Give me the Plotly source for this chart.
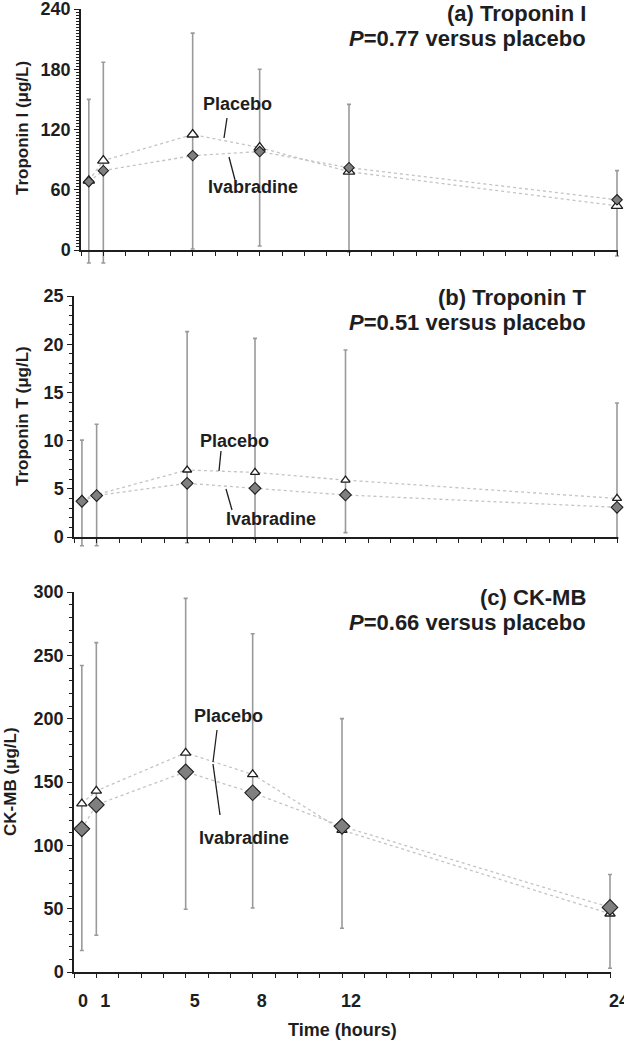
import plotly.graph_objects as go

W, H = 624, 1041

# time points (baseline drawn just right of the y axis, as in the original)
hours = [0.35, 1, 5, 8, 12, 24]
tick_hours = [0, 1, 5, 8, 12, 24]

# (a) Troponin I
tni_placebo = [69, 89, 115, 102, 78, 44]
tni_ivabradine = [68, 79, 94, 98, 82, 50]
tni_bar_top = [150, 187, 216, 180, 145, 79]
tni_bar_bottom = [-13, -13, 1, 4, -2, -6]

# (b) Troponin T
tnt_placebo = [3.9, 4.4, 6.95, 6.7, 5.9, 4.0]
tnt_ivabradine = [3.7, 4.3, 5.57, 5.05, 4.36, 3.08]
tnt_bar_top = [10.05, 11.7, 21.3, 20.6, 19.4, 13.9]
tnt_bar_bottom = [-0.9, -0.9, -0.6, -0.2, 0.45, -0.1]

# (c) CK-MB
ckmb_placebo = [133, 143, 173, 156, 112, 46]
ckmb_ivabradine = [113, 132, 158, 141.5, 115, 51]
ckmb_bar_top = [242, 260, 295, 267, 200, 77]
ckmb_bar_bottom = [17, 29, 49.5, 50.5, 34.5, 3]

FONT = "Liberation Sans, Arial, sans-serif"
DARK = "#1e1e1e"
GREY_BAR = "#9a9a9a"
GREY_LINE = "#c4c4c4"
XMAX = 24.03  # a hair past 24 so the last points are not dropped
EXT = 20      # px the error bars may run past the axes


def fx(p):
    return p / W


def fy(p):
    return 1 - p / H


def label(text, x, y, size, **kw):
    opts = dict(text="<b>" + text + "</b>", xref="paper", yref="paper",
                x=fx(x), y=fy(y), xanchor="center", yanchor="middle", showarrow=False,
                font=dict(family=FONT, size=size, color=DARK))
    opts.update(kw)
    return opts


panels = [
    dict(pl=tni_placebo, iv=tni_ivabradine, top=tni_bar_top, bot=tni_bar_bottom,
         xl=81, xr=617, yt=9, yb=250, yrange=[0, 240], dtick=60, minor=3,
         tri=10, dia=8, ytitle="Troponin I (μg/L)", ytx=22, yty=128,
         title="(a) Troponin I", pval="<i>P</i>=0.77 versus placebo", ty=13,
         plab=(237, 104), pline=(227, 118, 224, 138),
         ilab=(253, 187), iline=(229, 157, 235, 180)),
    dict(pl=tnt_placebo, iv=tnt_ivabradine, top=tnt_bar_top, bot=tnt_bar_bottom,
         xl=74, xr=617, yt=296, yb=537, yrange=[0, 25], dtick=5, minor=1,
         tri=8, dia=9, ytitle="Troponin T (μg/L)", ytx=22, yty=416,
         title="(b) Troponin T", pval="<i>P</i>=0.51 versus placebo", ty=297,
         plab=(234, 441), pline=(221, 451, 219, 471),
         ilab=(271, 519), iline=(226, 489, 232, 510)),
    dict(pl=ckmb_placebo, iv=ckmb_ivabradine, top=ckmb_bar_top, bot=ckmb_bar_bottom,
         xl=74, xr=610, yt=592, yb=972, yrange=[0, 300], dtick=50, minor=10,
         tri=9, dia=12, ytitle="CK-MB (μg/L)", ytx=10, yty=782,
         title="(c) CK-MB", pval="<i>P</i>=0.66 versus placebo", ty=597,
         plab=(228, 716), pline=(217, 730, 213, 762),
         ilab=(244, 838), iline=(213, 764, 220, 815)),
]

fig = go.Figure()
annotations = []
shapes = []
tickfont = dict(family=FONT, size=18, color=DARK, weight="bold")
hidden = dict(showline=False, showticklabels=False, ticks="", showgrid=False,
              zeroline=False, automargin=False)

for i, p in enumerate(panels):
    # error bars go on the lower-numbered (hidden, enlarged) subplot so the
    # markers of the visible subplot are drawn over them
    e = "" if i == 0 else str(i + 1)
    v = str(i + 4)
    xe, ye = "x" + e, "y" + e
    xa, ya = "x" + v, "y" + v

    hr_px = (p["xr"] - p["xl"]) / 24
    right_px = p["xl"] + hr_px * XMAX
    ext_r = min(EXT, W - right_px - 0.5)
    xdom = [fx(p["xl"]), fx(right_px)]
    ydom = [fy(p["yb"]), fy(p["yt"])]
    per_px = (p["yrange"][1] - p["yrange"][0]) / (p["yb"] - p["yt"])

    mid = [(t + b) / 2 for t, b in zip(p["top"], p["bot"])]
    half = [(t - b) / 2 for t, b in zip(p["top"], p["bot"])]

    fig.add_trace(go.Scatter(
        x=hours, y=mid, mode="markers", xaxis=xe, yaxis=ye,
        marker=dict(size=1, opacity=0), showlegend=False, hoverinfo="skip",
        error_y=dict(type="data", array=half, symmetric=True, color=GREY_BAR,
                     thickness=1.6, width=2)))
    # dotted connecting lines
    for vals in (p["pl"], p["iv"]):
        fig.add_trace(go.Scatter(
            x=hours, y=vals, mode="lines", xaxis=xa, yaxis=ya, showlegend=False,
            line=dict(color=GREY_LINE, width=1.3, dash="dot")))
    # placebo: open triangles
    fig.add_trace(go.Scatter(
        x=hours, y=p["pl"], mode="markers", xaxis=xa, yaxis=ya, showlegend=False,
        cliponaxis=False,
        marker=dict(symbol="triangle-up", size=p["tri"], color="white",
                    line=dict(color=DARK, width=1.3))))
    # ivabradine: grey diamonds
    fig.add_trace(go.Scatter(
        x=hours, y=p["iv"], mode="markers", xaxis=xa, yaxis=ya, showlegend=False,
        cliponaxis=False,
        marker=dict(symbol="diamond", size=p["dia"], color="#7f7f7f",
                    line=dict(color=DARK, width=1.1))))

    last = i == 2
    fig.update_layout(**{
        "xaxis" + e: dict(
            domain=[xdom[0], fx(right_px + ext_r)],
            range=[0, XMAX + ext_r / hr_px], anchor=ye, **hidden),
        "yaxis" + e: dict(
            domain=[fy(p["yb"] + EXT), ydom[1]],
            range=[p["yrange"][0] - EXT * per_px, p["yrange"][1]], anchor=xe, **hidden),
        "xaxis" + v: dict(
            domain=xdom, range=[0, XMAX], anchor=ya, automargin=False,
            showline=True, linecolor=DARK, linewidth=1.5, zeroline=False, showgrid=False,
            tickmode="array", tickvals=list(range(25)),
            ticktext=[str(h) if (last and h in tick_hours) else "" for h in range(25)],
            ticks="outside", ticklen=4, tickwidth=1.2, tickcolor=DARK,
            ticklabelshift=9, ticklabelstandoff=8, ticklabeloverflow="allow",
            tickfont=tickfont,
        ),
        "yaxis" + v: dict(
            domain=ydom, range=p["yrange"], anchor=xa, automargin=False,
            showline=True, linecolor=DARK, linewidth=1.5, zeroline=False, showgrid=False,
            dtick=p["dtick"], ticks="outside", ticklen=5, tickwidth=1.2, tickcolor=DARK,
            minor=dict(dtick=p["minor"], ticks="outside", ticklen=3, tickwidth=1, tickcolor=DARK),
            ticklabeloverflow="allow", tickfont=tickfont,
        ),
    })

    annotations += [
        label(p["ytitle"], p["ytx"], p["yty"], 17, textangle=-90),
        label(p["title"], 588, p["ty"], 22, xanchor="right"),
        label(p["pval"], 588, p["ty"] + 25, 22, xanchor="right"),
        label("Placebo", p["plab"][0], p["plab"][1], 18),
        label("Ivabradine", p["ilab"][0], p["ilab"][1], 18),
    ]
    for seg in (p["pline"], p["iline"]):
        shapes.append(dict(type="line", xref="paper", yref="paper",
                           x0=fx(seg[0]), y0=fy(seg[1]), x1=fx(seg[2]), y1=fy(seg[3]),
                           line=dict(color=DARK, width=1.3)))

annotations.append(label("Time (hours)", 342, 1030, 18))

fig.update_layout(
    width=W, height=H,
    margin=dict(l=0, r=0, t=0, b=0),
    paper_bgcolor="white", plot_bgcolor="rgba(0,0,0,0)",
    annotations=annotations, shapes=shapes,
    font=dict(family=FONT, color=DARK),
)

# drop the browser's default 8px page margin so the figure fills the window
fig.write_html("out.html", config={"displayModeBar": False},
               post_script="document.body.style.margin = '0';")
